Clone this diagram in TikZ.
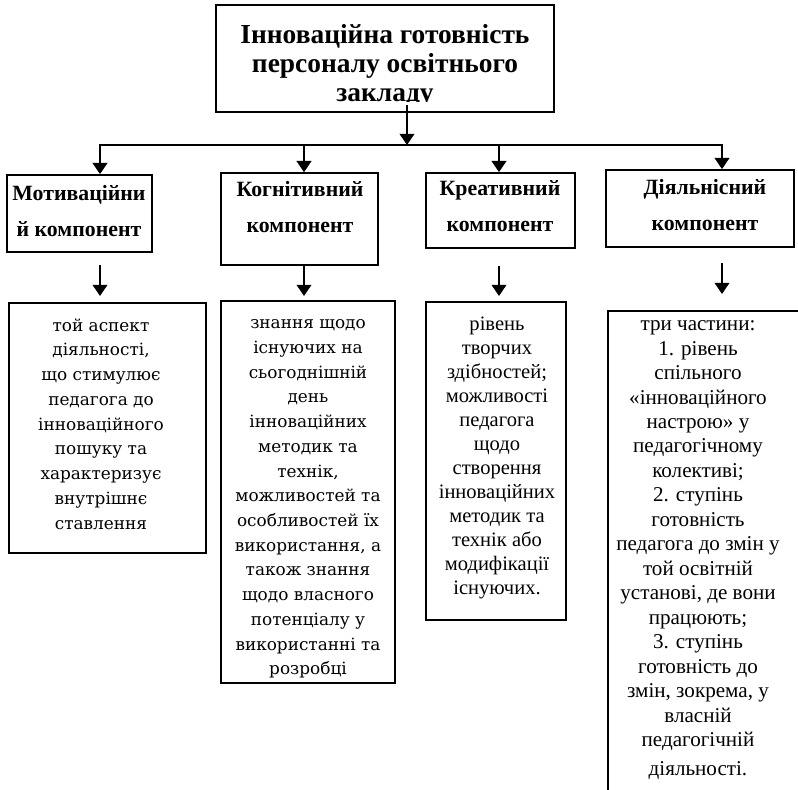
\documentclass[tikz,border=0pt]{standalone}
\usepackage{fontspec}
\setmainfont{Liberation Serif}
\newfontfamily\dvserif{DejaVu Serif}
\usetikzlibrary{arrows.meta}

\begin{document}
\begin{tikzpicture}[
  x=0.025cm, y=-0.025cm,
  box/.style={draw=black, line width=1.1pt, inner sep=0pt},
  txt/.style={align=center, inner sep=0pt},
  head/.style={txt, font=\bfseries\fontsize{15.5}{26}\selectfont},
  tnrtext/.style={txt, font=\fontsize{14.6}{17.1}\selectfont},
  dvtext/.style={txt, font=\dvserif\fontsize{12}{17.6}\selectfont},
  arr/.style={line width=1.3pt, -{Triangle[length=8pt, width=10.5pt]}},
  edge/.style={line width=1.3pt, line cap=rect}
]
  \useasboundingbox (0,0) rectangle (798,790);

  % --- ВЕРХНІЙ БЛОК ---
  \node[box, minimum width=8.45cm, minimum height=2.68cm] (top) at (385,58.5) {};
  \begin{scope}
    \clip (top.north west) rectangle ([yshift=7.8pt]top.south east);
    \node[txt, font=\bfseries\fontsize{19.5}{20.6}\selectfont]
      (toptxt) at (385,66) {Інноваційна готовність\\персоналу освітнього\\закладу};
  \end{scope}

  % --- КОМПОНЕНТИ ---
  \node[box, minimum width=3.63cm, minimum height=1.93cm] (mot) at (79.5,213.5) {};
  \node[box, minimum width=3.93cm, minimum height=2.3cm] (kog) at (299.5,219) {};
  \node[box, minimum width=3.73cm, minimum height=1.88cm] (kre) at (500.5,210.5) {};
  \node[box, minimum width=4.7cm, minimum height=1.93cm] (dij) at (700,208.5) {};

  \node[head] (motL) at (79,211) {Мотиваційни\\й компонент};
  \node[head] (kogL) at (300,207) {Когнітивний\\компонент};
  \node[head] (kreL) at (500,206) {Креативний\\компонент};
  \node[head] (dijL) at (705,205) {Діяльнісний\\компонент};

  % --- ОПИСИ ---
  \node[box, minimum width=4.93cm, minimum height=6.25cm] (mot2) at (107.5,428) {};
  \node[box, minimum width=4.35cm, minimum height=9.55cm] (kog2) at (308,492) {};
  \node[box, minimum width=3.5cm, minimum height=7.95cm] (kre2) at (496,461) {};
  \node[box, anchor=north west, minimum width=6cm, minimum height=13cm] (dij2) at (607,310) {};

  \node[dvtext] (mot2L) at (101,424)
    {той аспект\\діяльності,\\що стимулює\\педагога до\\інноваційного\\пошуку та\\характеризує\\внутрішнє\\ставлення};
  \node[dvtext] (kog2L) at (308,499)
    {знання щодо\\існуючих на\\сьогоднішній\\день\\інноваційних\\методик та\\технік,\\можливостей та\\особливостей їх\\використання, а\\також знання\\щодо власного\\потенціалу у\\використанні та\\розробці};
  \node[tnrtext] (kre2L) at (497,458)
    {рівень\\творчих\\здібностей;\\можливості\\педагога\\щодо\\створення\\інноваційних\\методик та\\технік або\\модифікації\\існуючих.};
  \node[txt, font=\fontsize{15}{17.4}\selectfont] (dij2L) at (698,550)
    {три частини:\\1. рівень\\спільного\\«інноваційного\\настрою» у\\педагогічному\\колективі;\\2. ступінь\\готовність\\педагога до змін у\\той освітній\\установі, де вони\\працюють;\\3. ступінь\\готовність до\\змін, зокрема, у\\власній\\педагогічній\\[3pt]діяльності.};

  % --- СТРІЛКИ ---
  \coordinate (topout) at (407,105);
  \coordinate (bus) at (407,145);
  \coordinate (c1) at (100,145);
  \coordinate (c2) at (304,145);
  \coordinate (c3) at (499,145);
  \coordinate (c4) at (722,145);

  \draw[arr] (topout) -- (bus);
  \draw[edge] (c1) -- (c4);
  \draw[arr] (c1) -- (c1 |- mot.north);
  \draw[arr] (c2) -- (c2 |- kog.north);
  \draw[arr] (c3) -- (c3 |- kre.north);
  \draw[arr] (c4) -- (c4 |- dij.north);

  \coordinate (d1) at (100,265);
  \coordinate (e1) at (100,296);
  \coordinate (d2) at (304,266);
  \coordinate (e2) at (304,296);
  \coordinate (d3) at (499,266);
  \coordinate (e3) at (499,296);
  \coordinate (d4) at (722,263);
  \coordinate (e4) at (722,294);

  \draw[arr] (d1) -- (e1);
  \draw[arr] (d2) -- (e2);
  \draw[arr] (d3) -- (e3);
  \draw[arr] (d4) -- (e4);
\end{tikzpicture}
\end{document}
